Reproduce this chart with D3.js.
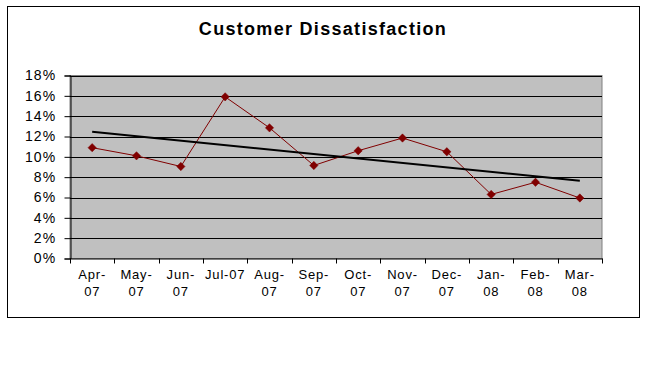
<!DOCTYPE html>
<html><head><meta charset="utf-8">
<script src="https://cdn.jsdelivr.net/npm/d3@7"></script>
<style>
html,body{margin:0;padding:0;background:#fff;}
svg{display:block;font-family:"Liberation Sans",Arial,sans-serif;}
</style></head>
<body>
<svg id="chart" width="649" height="384"></svg>
<script>
const categories = ["Apr-07","May-07","Jun-07","Jul-07","Aug-07","Sep-07","Oct-07","Nov-07","Dec-07","Jan-08","Feb-08","Mar-08"];
const values = [0.109,0.101,0.0905,0.159,0.1285,0.0915,0.106,0.1185,0.105,0.063,0.075,0.0595];
const yTicks = [0,0.02,0.04,0.06,0.08,0.10,0.12,0.14,0.16,0.18];
const title = "Customer Dissatisfaction";

const svg = d3.select("#chart");
const L = 70, R = 602, T = 75.5, B = 258.5;

svg.append("rect").attr("x",7.5).attr("y",6.5).attr("width",632).attr("height",311)
  .attr("fill","#fff").attr("stroke","#000").attr("stroke-width",1);

svg.append("text").attr("x",323).attr("y",35).attr("text-anchor","middle")
  .attr("font-size",18).attr("font-weight","bold").attr("letter-spacing",1.3).text(title);

const x = d3.scaleBand().domain(categories).range([L,R]);
const y = d3.scaleLinear().domain([0,0.18]).range([B,T]);

svg.append("rect").attr("x",L).attr("y",T).attr("width",R-L).attr("height",B-T)
  .attr("fill","#c0c0c0").attr("stroke","#808080").attr("stroke-width",1);

// gridlines
svg.append("g").selectAll("line").data(yTicks.filter(d=>d>0)).join("line")
  .attr("x1",L).attr("x2",R).attr("y1",d=>Math.round(y(d))+0.5).attr("y2",d=>Math.round(y(d))+0.5)
  .attr("stroke","#000").attr("stroke-width",1);

// y axis
const yAxis = d3.axisLeft(y).tickValues(yTicks).tickFormat(d3.format(".0%")).tickSize(6).tickPadding(8);
const gy = svg.append("g").attr("transform",`translate(${L+0.5},0)`).call(yAxis);
gy.select(".domain").attr("stroke","#000");
gy.selectAll(".tick line").attr("stroke","#000");
gy.selectAll(".tick text").attr("font-size",14).attr("letter-spacing",1.2).attr("fill","#000")
  .attr("font-family","Liberation Sans, Arial, sans-serif");

// x axis ticks at category boundaries
const boundaries = categories.map(c=>x(c)).concat([R]);
const gx = svg.append("g");
gx.append("line").attr("x1",L).attr("x2",R+0.5).attr("y1",B+0.5).attr("y2",B+0.5).attr("stroke","#000");
gx.selectAll("line.t").data(boundaries).join("line").attr("class","t")
  .attr("x1",d=>Math.round(d)+0.5).attr("x2",d=>Math.round(d)+0.5)
  .attr("y1",B).attr("y2",B+5).attr("stroke","#000");

// x labels
gx.selectAll("text").data(categories).join("text")
  .attr("text-anchor","middle").attr("font-size",13).attr("letter-spacing",0.8).attr("fill","#000")
  .each(function(d){
    const t = d3.select(this);
    const cx = x(d)+x.bandwidth()/2;
    if (d === "Jul-07") {
      t.append("tspan").attr("x",cx).attr("y",279).text(d);
    } else {
      const [m,yr] = d.split("-");
      t.append("tspan").attr("x",cx).attr("y",279).text(m+"-");
      t.append("tspan").attr("x",cx).attr("y",296).text(yr);
    }
  });

const cxOf = (d,i)=>x(categories[i])+x.bandwidth()/2;

// data line
svg.append("path").datum(values)
  .attr("d",d3.line().x((d,i)=>cxOf(d,i)).y(d=>y(d)))
  .attr("fill","none").attr("stroke","#800000").attr("stroke-width",1);

// linear trendline (least squares from values)
const n = values.length;
const mx = (n-1)/2, my = d3.mean(values);
let sxy=0, sxx=0;
values.forEach((v,i)=>{sxy+=(i-mx)*(v-my); sxx+=(i-mx)*(i-mx);});
const slope = sxy/sxx, icpt = my - slope*mx;
const trend = [0,n-1].map(i=>({i, v: icpt+slope*i}));
svg.append("path").datum(trend)
  .attr("d",d3.line().x(d=>cxOf(null,d.i)).y(d=>y(d.v)))
  .attr("fill","none").attr("stroke","#000").attr("stroke-width",2);

// markers
svg.append("g").selectAll("path").data(values).join("path")
  .attr("transform",(d,i)=>`translate(${cxOf(d,i)},${y(d)})`)
  .attr("d",d3.symbol().type(d3.symbolDiamond2).size(44))
  .attr("fill","#800000").attr("stroke","#800000").attr("stroke-width",0.5);
</script>
</body></html>
